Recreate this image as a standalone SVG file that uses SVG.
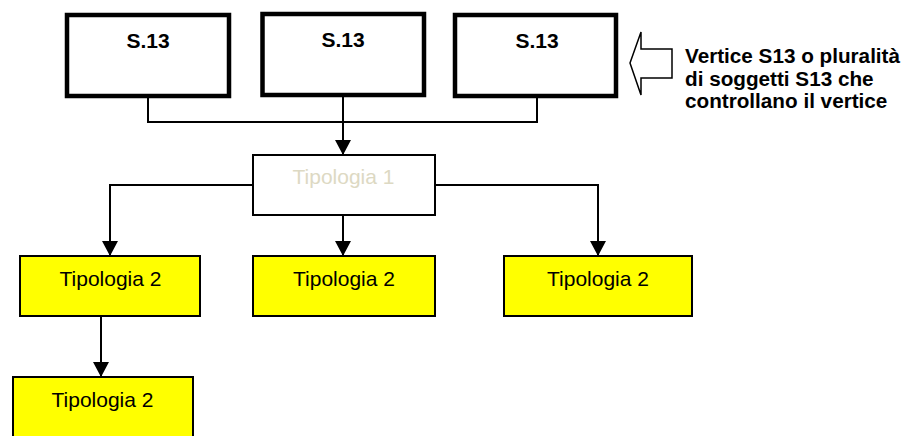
<svg xmlns="http://www.w3.org/2000/svg" width="916" height="436" viewBox="0 0 916 436">
<defs>
<style>
.top{fill:#fff;stroke:#000;stroke-width:4.5}
.t1{fill:#fff;stroke:#000;stroke-width:2}
.t2{fill:#ffff00;stroke:#000;stroke-width:2}
.lbl{font-family:"Liberation Sans",Arial,sans-serif;font-size:21px;text-anchor:middle}
.b{font-weight:bold}
.c{fill:none;stroke:#000;stroke-width:2}
.note{font-family:"Liberation Sans",Arial,sans-serif;font-size:20.7px;font-weight:bold;fill:#000}
</style>
<marker id="ah" markerUnits="userSpaceOnUse" markerWidth="16" markerHeight="16" viewBox="0 0 16 16" refX="15" refY="8" orient="auto">
<path d="M0,0 L15,8 L0,16 Z" fill="#000"/>
</marker>
</defs>
<g id="connectors">
<path class="c" d="M148,98 V122 H537 V98"/>
<path class="c" d="M343,97 V155" stroke-width="2.5" marker-end="url(#ah)"/>
<path class="c" d="M253,185 H110 V256" marker-end="url(#ah)"/>
<path class="c" d="M435,185 H598 V256" marker-end="url(#ah)"/>
<path class="c" d="M343,215 V256" marker-end="url(#ah)"/>
<path class="c" d="M101,316 V377" marker-end="url(#ah)"/>
</g>
<g id="s13a"><rect class="top" x="67" y="15" width="162" height="81"/><text class="lbl b" x="148" y="48">S.13</text></g>
<g id="s13b"><rect class="top" x="262.5" y="14" width="161.5" height="81"/><text class="lbl b" x="343" y="47">S.13</text></g>
<g id="s13c"><rect class="top" x="455" y="15" width="161" height="81"/><text class="lbl b" x="537" y="48">S.13</text></g>
<g id="note">
<polygon points="630,63 641,32 641,49 672,49 672,78 641,78 641,95" fill="#fff" stroke="#000" stroke-width="1.5"/>
<text class="note" x="685" y="63">Vertice S13 o pluralità</text>
<text class="note" x="685" y="85.5">di soggetti S13 che</text>
<text class="note" x="685" y="108">controllano il vertice</text>
</g>
<g id="tip1"><rect class="t1" x="253" y="155" width="182" height="60"/><text class="lbl" x="343.5" y="184" fill="#ddd9c3">Tipologia 1</text></g>
<g id="tip2a"><rect class="t2" x="20" y="256" width="180" height="60"/><text class="lbl" x="110.5" y="286">Tipologia 2</text></g>
<g id="tip2b"><rect class="t2" x="253" y="256" width="182" height="60"/><text class="lbl" x="344" y="286">Tipologia 2</text></g>
<g id="tip2c"><rect class="t2" x="504" y="256" width="188" height="60"/><text class="lbl" x="598" y="286">Tipologia 2</text></g>
<g id="tip2d"><rect class="t2" x="13" y="377" width="180" height="62"/><text class="lbl" x="102.5" y="407">Tipologia 2</text></g>
</svg>
